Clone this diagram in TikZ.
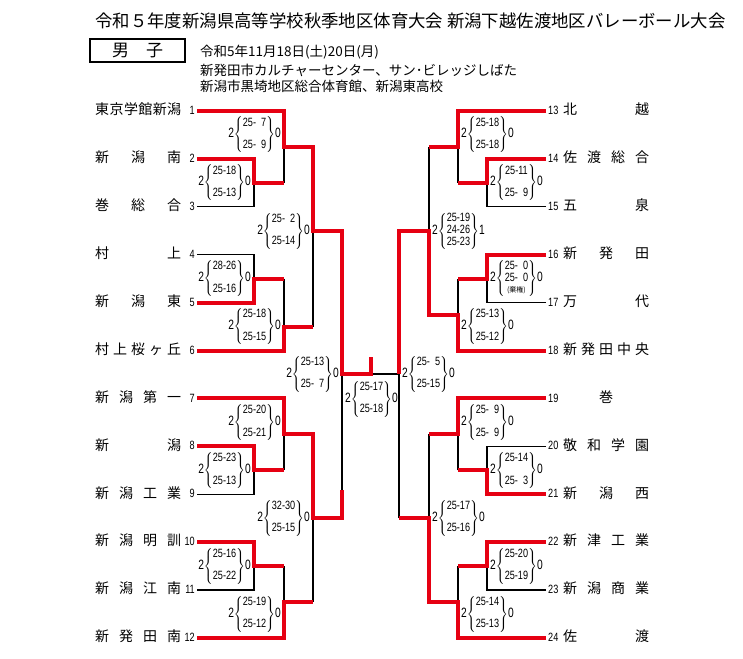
\documentclass[tikz,border=0pt]{standalone}
\usepackage{fontspec}
\setmainfont{Noto Sans CJK JP}
\newfontfamily\scorefont[FakeStretch=0.76]{Liberation Sans}
\definecolor{winred}{RGB}{230,0,18}
\tikzset{
  lose/.style={line width=1.1pt},
  win/.style={line width=4pt, draw=winred, line join=miter},
  team/.style={inner sep=0pt, font=\fontsize{14}{16}\selectfont, text height=0.88em, text depth=0.12em},
  num/.style={inner sep=0pt, font=\scorefont\fontsize{12}{13}\selectfont, text height=0.72em, text depth=0pt},
  score/.style={inner sep=0pt, font=\scorefont\fontsize{12}{12.5}\selectfont},
}
% 2{set / set}0
\newcommand\setscore[3]{{\fontsize{13.5}{14}\selectfont #1}$\left\{\begin{tabular}{@{}c@{}}#2\end{tabular}\right\}${\fontsize{13.5}{14}\selectfont #3}}
\newcommand\pz{\phantom{0}}

\begin{document}
\begin{tikzpicture}[x=1pt,y=-1pt]
\useasboundingbox (0,0) rectangle (743,658);

% --------- EN-TETE ----------
\node[anchor=west, inner sep=0pt, font=\fontsize{17.4}{20}\selectfont] (title) at (95,20.7)
  {令和５年度新潟県高等学校秋季地区体育大会 新潟下越佐渡地区バレーボール大会};
\node[draw, line width=1.3pt, minimum width=95pt, minimum height=23pt, inner sep=0pt,
  font=\fontsize{17}{20}\selectfont] (sex) at (137.5,50.5) {男\hspace{1em}子};
\node[anchor=west, inner sep=0pt, font=\fontsize{13.5}{16}\selectfont] (date) at (200,51.7)
  {令和5年11月18日(土)20日(月)};
\node[anchor=west, inner sep=0pt, font=\fontsize{13.5}{16}\selectfont] (venueA) at (200,70.7)
  {新発田市カルチャーセンター、サン･ビレッジしばた};
\node[anchor=west, inner sep=0pt, font=\fontsize{13.5}{16}\selectfont] (venueB) at (200,86)
  {新潟市黒埼地区総合体育館、新潟東高校};

% --------- EQUIPES ----------
\foreach \i/\nm in {1/{東\hfill 京\hfill 学\hfill 館\hfill 新\hfill 潟}, 2/{新\hfill 潟\hfill 南},
  3/{巻\hfill 総\hfill 合}, 4/{村\hfill 上}, 5/{新\hfill 潟\hfill 東},
  6/{村\hfill 上\hfill 桜\hfill ヶ\hfill 丘}, 7/{新\hfill 潟\hfill 第\hfill 一}, 8/{新\hfill 潟},
  9/{新\hfill 潟\hfill 工\hfill 業}, 10/{新\hfill 潟\hfill 明\hfill 訓},
  11/{新\hfill 潟\hfill 江\hfill 南}, 12/{新\hfill 発\hfill 田\hfill 南}}{
  \node[team, anchor=west] (tl\i) at (95,{111+47.9*(\i-1)}) {\makebox[86pt][s]{\nm}};
  \node[num, anchor=east] (nl\i) at (195,{111+47.9*(\i-1)}) {\i};
  \coordinate (L\i) at (197,{111+47.9*(\i-1)});
}
\foreach \i/\nm in {13/{北\hfill 越}, 14/{佐\hfill 渡\hfill 総\hfill 合}, 15/{五\hfill 泉},
  16/{新\hfill 発\hfill 田}, 17/{万\hfill 代}, 18/{新\hfill 発\hfill 田\hfill 中\hfill 央},
  19/{\hfill 巻\hfill}, 20/{敬\hfill 和\hfill 学\hfill 園}, 21/{新\hfill 潟\hfill 西},
  22/{新\hfill 津\hfill 工\hfill 業}, 23/{新\hfill 潟\hfill 商\hfill 業}, 24/{佐\hfill 渡}}{
  \node[team, anchor=west] (tr\i) at (563,{111+47.9*(\i-13)}) {\makebox[86pt][s]{\nm}};
  \node[num, anchor=west] (nr\i) at (548,{111+47.9*(\i-13)}) {\i};
  \coordinate (R\i) at (546,{111+47.9*(\i-13)});
}

% --------- NOEUDS DU TABLEAU ----------
\coordinate (A1) at (254,182.85);
\coordinate (A2) at (284,146.9);
\coordinate (B1) at (254,278.65);
\coordinate (B2) at (284,327);
\coordinate (AB) at (313,231);
\coordinate (E1) at (254,470.25);
\coordinate (E2) at (284,434.3);
\coordinate (F1) at (254,566);
\coordinate (F2) at (284,602);
\coordinate (EF) at (313,518);
\coordinate (SL) at (342,374);
\coordinate (ST) at (342,490);
\coordinate (FN) at (371,374);
\coordinate (CH) at (371,357);
\coordinate (SR) at (399,374);
\coordinate (C1) at (487,182.85);
\coordinate (C2) at (458,146.9);
\coordinate (D1) at (487,278.65);
\coordinate (D2) at (458,315);
\coordinate (CD) at (429,231);
\coordinate (G1) at (487,470.25);
\coordinate (G2) at (458,434.3);
\coordinate (H1) at (487,566);
\coordinate (H2) at (458,602);
\coordinate (GH) at (429,518);

% Perdants (noir)
\draw[lose] (L3) -| (A1);
\draw[lose] (L4) -| (B1);
\draw[lose] (L9) -| (E1);
\draw[lose] (L11) -| (F1);
\draw[lose] (A1 -| A2) -- (A2);
\draw[lose] (B1 -| B2) -- (B2);
\draw[lose] (B2 -| AB) -- (AB);
\draw[lose] (E1 -| E2) -- (E2);
\draw[lose] (F1 -| F2) -- (F2);
\draw[lose] (F2 -| EF) -- (EF);
\draw[lose] (ST) -- (SL);
\draw[lose] (FN) -- (SR);
\draw[lose] (R15) -| (C1);
\draw[lose] (R17) -| (D1);
\draw[lose] (R20) -| (G1);
\draw[lose] (R23) -| (H1);
\draw[lose] (C1 -| C2) -- (C2);
\draw[lose] (D1 -| D2) -- (D2);
\draw[lose] (C2 -| CD) -- (CD);
\draw[lose] (G1 -| G2) -- (G2);
\draw[lose] (H1 -| H2) -- (H2);
\draw[lose] (G2 -| GH) -- (GH);
\draw[lose] (GH -| SR) -- (SR);

% Gagnants (rouge)
\draw[win] (L1) -| (A2) -| (AB) -| (SL) -- (FN) -- (CH);
\draw[win] (L2) -| (A1) -- (A1 -| A2);
\draw[win] (L5) -| (B1) -- (B1 -| B2);
\draw[win] (L6) -| (B2) -- (B2 -| AB);
\draw[win] (L7) -| (E2) -| (EF) -- (EF -| SL) -- (ST);
\draw[win] (L8) -| (E1) -- (E1 -| E2);
\draw[win] (L10) -| (F1) -- (F1 -| F2);
\draw[win] (L12) -| (F2) -- (F2 -| EF);
\draw[win] (R13) -| (C2) -- (C2 -| CD);
\draw[win] (R14) -| (C1) -- (C1 -| C2);
\draw[win] (R16) -| (D1) -- (D1 -| D2);
\draw[win] (R18) -| (D2) -| (CD) -| (SR);
\draw[win] (R19) -| (G2) -- (G2 -| GH);
\draw[win] (R21) -| (G1) -- (G1 -| G2);
\draw[win] (R22) -| (H1) -- (H1 -| H2);
\draw[win] (R24) -| (H2) -| (GH) -- (GH -| SR);

% --------- SCORES ----------
\node[score, anchor=east] (sA1) at (251,182.85) {\setscore{2}{25-18\\[10pt]25-13}{0}};
\node[score, anchor=east] (sA2) at (281,134.9) {\setscore{2}{25-\pz 7\\[10pt]25-\pz 9}{0}};
\node[score, anchor=east] (sAB) at (310,231) {\setscore{2}{25-\pz 2\\[10pt]25-14}{0}};
\node[score, anchor=east] (sB1) at (251,278.65) {\setscore{2}{28-26\\[10pt]25-16}{0}};
\node[score, anchor=east] (sB2) at (281,326.5) {\setscore{2}{25-18\\[10pt]25-15}{0}};
\node[score, anchor=east] (sE1) at (251,470.25) {\setscore{2}{25-23\\[10pt]25-13}{0}};
\node[score, anchor=east] (sE2) at (281,422.35) {\setscore{2}{25-20\\[10pt]25-21}{0}};
\node[score, anchor=east] (sEF) at (310,518) {\setscore{2}{32-30\\[10pt]25-15}{0}};
\node[score, anchor=east] (sF1) at (251,566) {\setscore{2}{25-16\\[10pt]25-22}{0}};
\node[score, anchor=east] (sF2) at (281,614) {\setscore{2}{25-19\\[10pt]25-12}{0}};
\node[score, anchor=east] (sSL) at (339,374) {\setscore{2}{25-13\\[10pt]25-\pz 7}{0}};
\node[score, anchor=west] (sFN) at (345,399) {\setscore{2}{25-17\\[10pt]25-18}{0}};
\node[score, anchor=west] (sSR) at (402,374) {\setscore{2}{25-\pz 5\\[10pt]25-15}{0}};
\node[score, anchor=west] (sC1) at (490,182.85) {\setscore{2}{25-11\\[10pt]25-\pz 9}{0}};
\node[score, anchor=west] (sC2) at (461,134.9) {\setscore{2}{25-18\\[10pt]25-18}{0}};
\node[score, anchor=west] (sCD) at (432,231) {\setscore{2}{25-19\\[-0.5pt]24-26\\[-0.5pt]25-23}{1}};
\node[score, anchor=west] (sD1) at (490,278.65)
  {\setscore{2}{25-\pz 0\\[-0.5pt]25-\pz 0\\[-1pt]{\normalfont\fontsize{7}{8}\selectfont(棄権)}}{0}};
\node[score, anchor=west] (sD2) at (461,326.5) {\setscore{2}{25-13\\[10pt]25-12}{0}};
\node[score, anchor=west] (sG1) at (490,470.25) {\setscore{2}{25-14\\[10pt]25-\pz 3}{0}};
\node[score, anchor=west] (sG2) at (461,422.35) {\setscore{2}{25-\pz 9\\[10pt]25-\pz 9}{0}};
\node[score, anchor=west] (sGH) at (432,518) {\setscore{2}{25-17\\[10pt]25-16}{0}};
\node[score, anchor=west] (sH1) at (490,566) {\setscore{2}{25-20\\[10pt]25-19}{0}};
\node[score, anchor=west] (sH2) at (461,614) {\setscore{2}{25-14\\[10pt]25-13}{0}};

\end{tikzpicture}
\end{document}
